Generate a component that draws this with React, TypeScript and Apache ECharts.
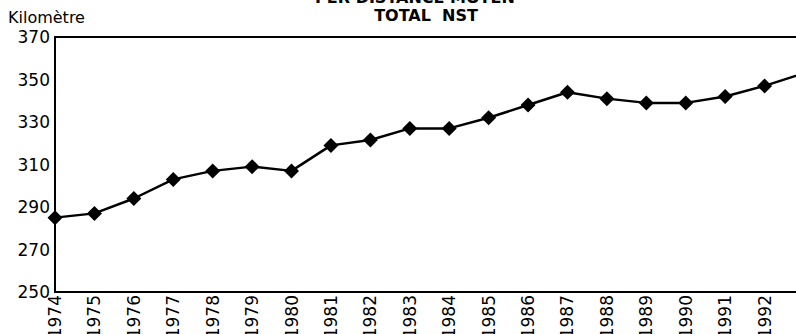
import React, { useEffect, useRef } from "react";
import * as echarts from "echarts";

const years = ["1974","1975","1976","1977","1978","1979","1980","1981","1982","1983","1984","1985","1986","1987","1988","1989","1990","1991","1992","1993"];
const kilometres = [285, 287, 294, 303, 307, 309, 307, 319, 321.5, 327, 327, 332, 338, 344, 341, 339, 339, 342, 347, 353];
const yTicks = { min: 250, max: 370, interval: 20 };
const titleLine1 = "PER DISTANCE MOYEN";
const titleLine2 = "TOTAL  NST";
const unitLabel = "Kilomètre";

const FONT = "'DejaVu Sans', Arial, Helvetica, sans-serif";

export default function App() {
  const ref = useRef<HTMLDivElement>(null);
  useEffect(() => {
    if (!ref.current) return;
    const chart = echarts.init(ref.current, undefined, { renderer: "svg" });
    chart.setOption({
      animation: false,
      backgroundColor: "#fff",
      grid: {
        left: 55,
        top: 37,
        bottom: 42,
        right: 36,
        containLabel: false,
        outerBoundsMode: "none",
        show: true,
        borderColor: "#000",
        borderWidth: 2,
        backgroundColor: "transparent",
      },
      graphic: [
        {
          type: "text",
          left: 8,
          top: 9,
          style: { text: unitLabel, font: `16px ${FONT}`, fill: "#000" },
        },
        {
          type: "text",
          x: 415,
          y: -11,
          style: { text: titleLine1, font: `bold 16px ${FONT}`, fill: "#000", align: "center", verticalAlign: "top" },
        },
        {
          type: "text",
          x: 426,
          y: 7,
          style: { text: titleLine2, font: `bold 16px ${FONT}`, fill: "#000", align: "center", verticalAlign: "top" },
        },
      ],
      xAxis: {
        type: "category",
        data: years,
        boundaryGap: false,
        axisLine: { show: true, lineStyle: { color: "#000", width: 2 } },
        axisTick: { show: false },
        splitLine: { show: false },
        axisLabel: {
          rotate: 90,
          margin: 3,
          color: "#000",
          fontFamily: FONT,
          fontSize: 17,
          interval: 0,
        },
      },
      yAxis: {
        type: "value",
        min: yTicks.min,
        max: yTicks.max,
        interval: yTicks.interval,
        axisLine: { show: true, lineStyle: { color: "#000", width: 2 } },
        axisTick: { show: false },
        splitLine: { show: false },
        axisLabel: {
          margin: 5,
          color: "#000",
          fontFamily: FONT,
          fontSize: 17,
        },
      },
      series: [
        {
          type: "line",
          data: kilometres,
          symbol: "diamond",
          symbolSize: [15, 15],
          lineStyle: { color: "#000", width: 2.5 },
          itemStyle: { color: "#000" },
          clip: false,
        },
      ],
    });
    return () => chart.dispose();
  }, []);
  return (
    <div style={{ position: "fixed", left: 0, top: 0, width: 796, height: 334, overflow: "hidden", background: "#fff" }}>
      <div ref={ref} style={{ position: "absolute", left: 0, top: 0, width: 840, height: 334 }} />
    </div>
  );
}
